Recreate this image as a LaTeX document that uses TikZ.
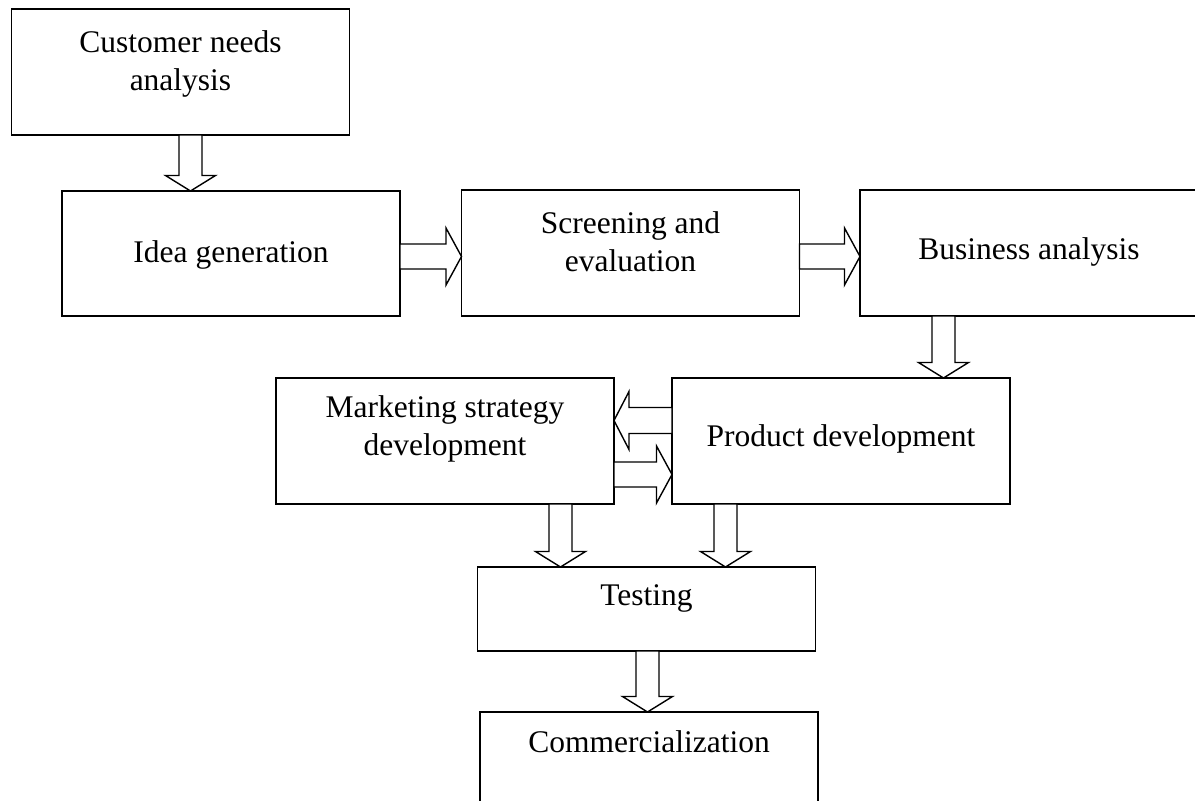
\documentclass[tikz,border=0pt]{standalone}
\usepackage{fontspec}
\setmainfont{Liberation Serif}
\usetikzlibrary{calc}
\newcommand{\tops}[1]{\rule{0pt}{#1pt}}
\newcommand{\bots}[1]{\rule[-#1pt]{0pt}{#1pt}}
\tikzset{
  box/.style={draw=black, line width=1.8pt, inner sep=0pt, outer sep=0pt,
    minimum width=338pt, align=center, anchor=north,
    font=\fontsize{31.5}{38}\selectfont},
  arrowline/.style={draw=black, line width=1.4pt, fill=white, line join=miter},
  bdown/.style={arrowline, to path={let \p1=(\tikztostart), \p2=(\tikztotarget) in
    (\x1-11.5pt,\y1) -- (\x1-11.5pt,\y2+15.5pt) -- (\x1-25pt,\y2+15.5pt) -- (\x1,\y2)
    -- (\x1+25pt,\y2+15.5pt) -- (\x1+11.5pt,\y2+15.5pt) -- (\x1+11.5pt,\y1) -- cycle}},
  bright/.style={arrowline, to path={let \p1=(\tikztostart), \p2=(\tikztotarget) in
    (\x1,\y1+12.5pt) -- (\x2-15.5pt,\y1+12.5pt) -- (\x2-15.5pt,\y1+28.5pt) -- (\x2,\y1)
    -- (\x2-15.5pt,\y1-28.5pt) -- (\x2-15.5pt,\y1-12.5pt) -- (\x1,\y1-12.5pt) -- cycle}},
  bleft/.style={arrowline, to path={let \p1=(\tikztostart), \p2=(\tikztotarget) in
    (\x1,\y1+13pt) -- (\x2+15pt,\y1+13pt) -- (\x2+15pt,\y1+29pt) -- (\x2,\y1)
    -- (\x2+15pt,\y1-29pt) -- (\x2+15pt,\y1-13pt) -- (\x1,\y1-13pt) -- cycle}},
}
\begin{document}
\begin{tikzpicture}[x=1pt, y=-1pt]
\clip (0,0) rectangle (1195,801);
\fill[white] (0,0) rectangle (1195,801);

\node[box] (cust) at (180.5,9)  {\tops{43}Customer needs\\analysis\bots{45}};
\node[box] (idea) at (231,191)  {\tops{71}Idea generation\bots{54}};
\node[box] (scr)  at (630.5,190) {\tops{43}Screening and\\evaluation\bots{45}};
\node[box, minimum width=344pt] (bus) at (1032,190) {\tops{69}\hspace*{-6pt}Business analysis\bots{57}};
\node[box] (mkt)  at (445,378)  {\tops{39}Marketing strategy\\development\bots{49}};
\node[box] (prod) at (841,378)  {\tops{68}Product development\bots{58}};
\node[box] (test) at (646.5,567) {\tops{38}Testing\bots{46}};
\node[box] (comm) at (649,712)  {\tops{40}Commercialization\bots{86}};

\coordinate (a1) at ([xshift=10pt]cust.south);
\coordinate (a2) at ([yshift=-3pt]idea.east);
\coordinate (a3) at ([yshift=-3.5pt]scr.east);
\coordinate (a4) at ([xshift=-88.5pt]bus.south);
\coordinate (a5) at ([yshift=20.5pt]prod.west);
\coordinate (a6) at ([yshift=-33.5pt]mkt.east);
\coordinate (a7) at ([xshift=115.5pt]mkt.south);
\coordinate (a8) at ([xshift=-115.5pt]prod.south);
\coordinate (a9) at ([xshift=1pt]test.south);

\draw[bdown]  (a1) to (a1 |- idea.north);
\draw[bright] (a2) to (a2 -| scr.west);
\draw[bright] (a3) to (a3 -| bus.west);
\draw[bdown]  (a4) to (a4 |- prod.north);
\draw[bleft]  (a5) to (a5 -| mkt.east);
\draw[bright] (a6) to (a6 -| prod.west);
\draw[bdown]  (a7) to (a7 |- test.north);
\draw[bdown]  (a8) to (a8 |- test.north);
\draw[bdown]  (a9) to (a9 |- comm.north);
\end{tikzpicture}
\end{document}
